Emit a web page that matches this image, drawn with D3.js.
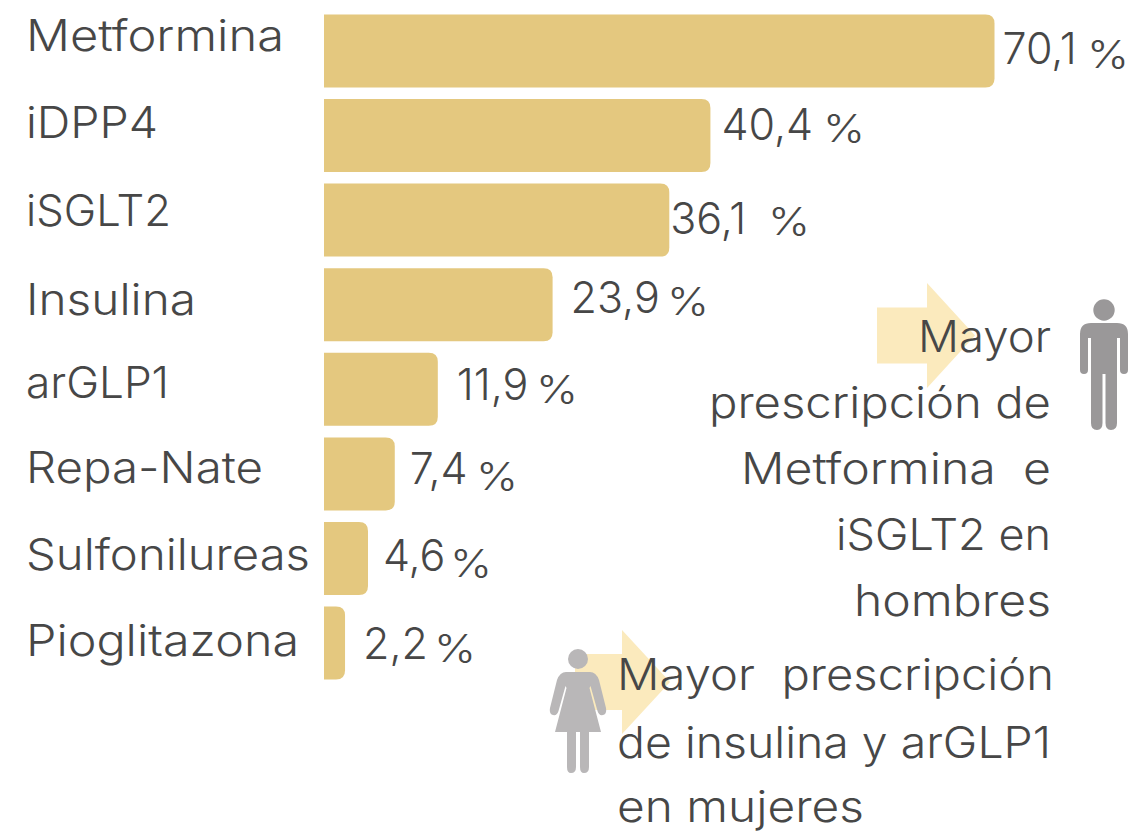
<!DOCTYPE html>
<html>
<head>
<meta charset="utf-8">
<script src="https://cdn.jsdelivr.net/npm/d3@7"></script>
<style>
  html, body { margin: 0; padding: 0; background: #fff; }
  text { font-family: Inter, "Open Sans", sans-serif; fill: #474747; }
</style>
</head>
<body>
<div id="chart"></div>
<script>
const categories = ['Metformina', 'iDPP4', 'iSGLT2', 'Insulina', 'arGLP1', 'Repa-Nate', 'Sulfonilureas', 'Pioglitazona'];
const values = [70.1, 40.4, 36.1, 23.9, 11.9, 7.4, 4.6, 2.2];
const valueLabels = ['70,1', '40,4', '36,1', '23,9', '11,9', '7,4', '4,6', '2,2'];
const menNote = ['Mayor', 'prescripción de', 'Metformina  e', 'iSGLT2 en', 'hombres'];
const womenNote = ['Mayor  prescripción', 'de insulina y arGLP1', 'en mujeres'];

const width = 1130, height = 833;
const x0 = 324;

const svg = d3.select('#chart').append('svg')
  .attr('width', width)
  .attr('height', height)
  .style('display', 'block');

const x = d3.scaleLinear().domain([0, 70.1]).range([x0, 994.5]);
const y = d3.scaleBand().domain(categories).range([14.4, 679.6]).paddingInner(0.137);

// label nudges, the original was placed by hand
const catBase = [51, 138, 226, 315, 398, 483, 570, 656];
const valDx = [8, 11, 1, 18, 19, 15, 15, 18];
const valBase = [64, 140, 234, 313, 400, 484, 571, 659];
const pctX = [1087, 823, 768, 667, 536, 476, 450, 434];
const pctBase = [68, 142, 235, 315, 403, 490, 577, 662];
const womenBase = [690, 758, 822];

// widths the labels take in the original, its font runs wider than Inter
const catWidth = [258, 132, 145, 170, 143, 237, 284, 273];
const menWidth = [133, 342, 310, 215, 197];
const womenWidth = [437, 434, 247];

function fit(sel, widths) {
  sel.attr('textLength', (d, i) => widths[i]).attr('lengthAdjust', 'spacingAndGlyphs');
}

// arrows go under the notes
function arrow(g, tx, ty, w, h, head, shaft) {
  const top = (h - shaft) / 2;
  g.append('path')
    .attr('transform', 'translate(' + tx + ',' + ty + ')')
    .attr('d', 'M0,' + top + 'H' + (w - head) + 'V0L' + w + ',' + (h / 2) + 'L' + (w - head) + ',' + h + 'V' + (h - top) + 'H0Z')
    .attr('fill', '#fbeabd');
}
const marks = svg.append('g');
arrow(marks, 877, 283, 98, 105, 48, 56);
arrow(marks, 575, 630, 95, 104, 48, 56);

// bars, square on the left and rounded on the right
svg.append('g').selectAll('path')
  .data(values)
  .enter()
  .append('path')
  .attr('d', (d, i) => {
    const r = 9, xe = x(d), yt = y(categories[i]), b = y.bandwidth();
    return 'M' + x0 + ',' + yt + 'H' + (xe - r) + 'Q' + xe + ',' + yt + ' ' + xe + ',' + (yt + r) +
      'V' + (yt + b - r) + 'Q' + xe + ',' + (yt + b) + ' ' + (xe - r) + ',' + (yt + b) + 'H' + x0 + 'Z';
  })
  .attr('fill', '#e4c87f');

svg.append('g').selectAll('text')
  .data(categories)
  .enter()
  .append('text')
  .attr('x', 26)
  .attr('y', (d, i) => catBase[i])
  .attr('font-size', 43)
  .attr('font-weight', 300)
  .text(d => d)
  .call(fit, catWidth);

svg.append('g').selectAll('text')
  .data(valueLabels)
  .enter()
  .append('text')
  .attr('x', (d, i) => x(values[i]) + valDx[i])
  .attr('y', (d, i) => valBase[i])
  .attr('font-size', 43)
  .attr('font-weight', 300)
  .text(d => d);

svg.append('g').selectAll('text')
  .data(valueLabels)
  .enter()
  .append('text')
  .attr('x', (d, i) => pctX[i])
  .attr('y', (d, i) => pctBase[i])
  .attr('font-size', 38)
  .attr('font-weight', 300)
  .text('%')
  .attr('textLength', 42)
  .attr('lengthAdjust', 'spacingAndGlyphs');

svg.append('g').selectAll('text')
  .data(menNote)
  .enter()
  .append('text')
  .attr('x', 1051)
  .attr('y', (d, i) => 352 + i * 66)
  .attr('text-anchor', 'end')
  .attr('font-size', 43)
  .attr('font-weight', 300)
  .style('white-space', 'pre')
  .text(d => d)
  .call(fit, menWidth);

svg.append('g').selectAll('text')
  .data(womenNote)
  .enter()
  .append('text')
  .attr('x', 617)
  .attr('y', (d, i) => womenBase[i])
  .attr('font-size', 43)
  .attr('font-weight', 300)
  .style('white-space', 'pre')
  .text(d => d)
  .call(fit, womenWidth);

// man pictogram
const man = svg.append('g').attr('transform', 'translate(1104,0)').attr('fill', '#9a9899');
man.append('circle').attr('cx', 0).attr('cy', 310).attr('r', 10.7);
man.append('path').attr('d',
  'M-13,323H13Q24,323 24,334V370Q24,374 20,374Q16,374 16,370V338H13V423Q13,430 7,430Q1.5,430 1.5,423V374H-1.5V423Q-1.5,430 -7,430Q-13,430 -13,423V338H-16V370Q-16,374 -20,374Q-24,374 -24,370V334Q-24,323 -13,323Z');

// woman pictogram
const woman = svg.append('g').attr('transform', 'translate(578,0)').attr('fill', '#b9b7b8');
woman.append('circle').attr('cx', 0).attr('cy', 659).attr('r', 10);
woman.append('path').attr('d',
  'M-12,672H12Q18,672 21,680L28,708Q29,714 25,715Q21,716 19.5,711L12.5,686L11.5,688L23,732H11V767Q11,773 6,773Q2,773 2,767V732H-2V767Q-2,773 -7,773Q-11,773 -11,767V732H-23L-11.5,688L-12.5,686L-19.5,711Q-21,716 -25,715Q-29,714 -28,708L-21,680Q-18,672 -12,672Z');
</script>
</body>
</html>
